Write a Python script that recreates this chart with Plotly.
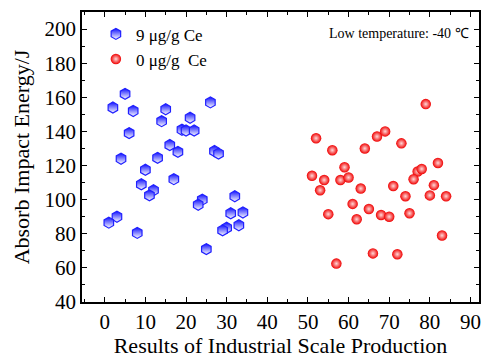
import plotly.graph_objects as go

# Data: 9 ug/g Ce
ce9_x = [5, 2, 7, 15, 26, 14, 21, 19, 20, 22, 6, 16, 18, 27, 28, 4, 13, 10, 17, 9,
         12, 11, 24, 23, 32, 31, 34, 33, 30, 29, 3, 1, 8, 25]
ce9_y = [162, 154, 152, 153, 157, 146, 148, 141, 140.5, 140.5, 139, 132, 128, 128.5, 127,
         124, 124.5, 117.5, 112, 109, 105.5, 102.5, 100, 97, 102, 92, 92.5, 85, 83.5, 82,
         90, 86.5, 80.5, 71]
# Data: 0 ug/g Ce
ce0_x = [79, 52, 67, 69, 73, 56, 64, 82, 59, 51, 54, 58, 60, 53, 63, 77, 78, 76, 71, 81,
         80, 84, 74, 61, 65, 68, 70, 55, 62, 75, 83, 66, 72, 57]
ce0_y = [156, 136, 137, 140, 133, 129, 130, 121.5, 119, 114, 111.5, 111.5, 113, 105.5,
         106.5, 116.5, 118, 112, 108, 108.5, 102.5, 102, 102, 97.5, 94.5, 91, 90, 91.5,
         88.5, 92, 79, 68.5, 68, 62.5]

x_ticks = [0, 10, 20, 30, 40, 50, 60, 70, 80, 90]
y_ticks = [40, 60, 80, 100, 120, 140, 160, 180, 200]

FONT = "Liberation Serif"

fig = go.Figure()
fig.add_trace(go.Scatter(
    x=ce9_x, y=ce9_y, mode="markers", name="9 μg/g Ce",
    marker=dict(symbol="hexagon", size=11, color="#1010ff",
                gradient=dict(type="vertical", color="white"),
                line=dict(color="#2020ff", width=1.2)),
))
fig.add_trace(go.Scatter(
    x=ce0_x, y=ce0_y, mode="markers", name="0 μg/g  Ce",
    marker=dict(symbol="circle", size=10.5, color="#f00000",
                gradient=dict(type="radial", color="#ffd8d8"),
                line=dict(width=0)),
))

axis_common = dict(
    showline=True, linecolor="black", linewidth=1.5, mirror="ticks",
    ticks="inside", ticklen=5, tickwidth=1.2, tickcolor="black",
    showgrid=False, zeroline=False,
    tickfont=dict(family=FONT, size=21, color="black"),
)

fig.update_xaxes(
    range=[-5.6, 92.1], tickvals=x_ticks,
    minor=dict(ticks="inside", ticklen=3, tickwidth=1, tickcolor="black", dtick=5, tick0=0),
    title=dict(text="Results of Industrial Scale Production",
               font=dict(family=FONT, size=22, color="black"), standoff=2),
    **axis_common,
)
fig.update_yaxes(
    range=[40, 210], tickvals=y_ticks,
    minor=dict(ticks="inside", ticklen=3, tickwidth=1, tickcolor="black", dtick=10, tick0=0),
    title=dict(text="Absorb Impact Energy/J",
               font=dict(family=FONT, size=22, color="black"), standoff=9),
    **axis_common,
)

fig.add_annotation(
    x=0.98, y=0.925, xref="paper", yref="paper", xanchor="right", yanchor="middle",
    text="Low temperature: -40 ℃", showarrow=False,
    font=dict(family=FONT, size=14, color="black"),
)

fig.update_layout(
    width=485, height=358,
    margin=dict(l=82, r=4, t=12, b=56),
    paper_bgcolor="white", plot_bgcolor="white",
    showlegend=True,
    legend=dict(x=0.035, y=0.985, xanchor="left", yanchor="top",
                bgcolor="rgba(0,0,0,0)", font=dict(family=FONT, size=17, color="black"),
                tracegroupgap=0, itemwidth=30),
)

fig.write_html("out.html")
